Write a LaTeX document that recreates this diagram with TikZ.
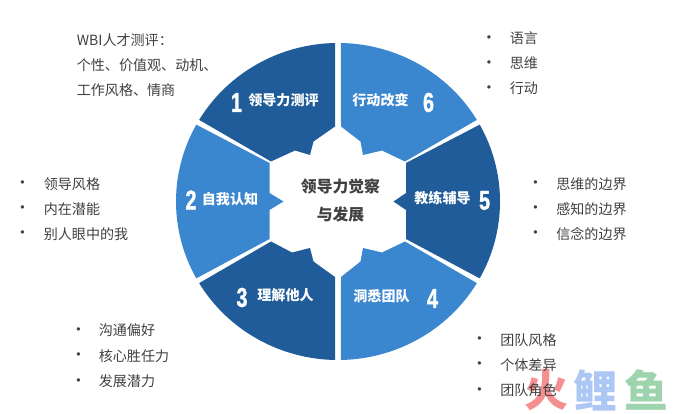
\documentclass[tikz,border=0pt]{standalone}
\usepackage{fontspec}
\setmainfont{Noto Sans CJK SC}
\newfontfamily\numfont[FakeBold=1.6]{Liberation Sans}
\newfontfamily\dotfont{Liberation Sans}
\definecolor{darkblue}{HTML}{1F5C99}
\definecolor{lightblue}{HTML}{3A87CF}
\definecolor{bodygray}{HTML}{404040}
\definecolor{brandred}{HTML}{F27C7C}
\definecolor{brandblue}{HTML}{9DBDF2}
\definecolor{brandgreen}{HTML}{8CCDA0}
\tikzset{
	label/.style={text=white, font=\fontsize{8}{8}\selectfont\bfseries, inner sep=0pt},
	num/.style={text=white, font=\numfont\fontsize{15.5}{15.5}\selectfont\bfseries, inner sep=0pt, transform shape, xscale=0.72},
	item/.style={text=bodygray, font=\fontsize{8}{8}\selectfont, anchor=west, inner sep=0pt},
	dot/.style={text=bodygray, font=\dotfont\fontsize{7}{7}\selectfont, inner sep=0pt},
	mid/.style={text=bodygray, font=\fontsize{9}{9}\selectfont\bfseries, inner sep=0pt},
	brand/.style={font=\fontsize{25}{25}\selectfont\bfseries, inner sep=0pt, text opacity=0.85}
}
\begin{document}
\begin{tikzpicture}
	\useasboundingbox (0,0) rectangle (13.84,8.26);

	% Watermark
	\node[brand, text=brandred] (w1) at (10.92,0.46) {火};
	\node[brand, text=brandblue] (w2) at (11.91,0.46) {鲤};
	\node[brand, text=brandgreen] (w3) at (12.92,0.46) {鱼};

	% Sectors
	\begin{scope}[shift={(6.76,4.23)}]
		\fill[darkblue] (149:3.24 and 3.17) -- (-1.34,0.80) -- (-0.86,1.02) -- (-0.56,0.93) -- (-0.49,1.20) -- (-0.06,1.50) -- (91:3.24 and 3.17) arc[start angle=91, end angle=149, x radius=3.24, y radius=3.17] -- cycle; % top left
		\fill[lightblue] (31:3.24 and 3.17) -- (1.34,0.80) -- (0.88,1.02) -- (0.50,0.93) -- (0.45,1.20) -- (0.06,1.50) -- (89:3.24 and 3.17) arc[start angle=89, end angle=31, x radius=3.24, y radius=3.17] -- cycle; % top right
		\fill[lightblue] (151:3.24 and 3.17) -- (-1.37,0.77) -- (-1.37,0.17) -- (-1.09,0) -- (-1.37,-0.17) -- (-1.37,-0.75) -- (209:3.24 and 3.17) arc[start angle=209, end angle=151, x radius=3.24, y radius=3.17] -- cycle; % left
		\fill[darkblue] (29:3.24 and 3.17) -- (1.36,0.77) -- (1.36,0.17) -- (1.11,0) -- (1.36,-0.17) -- (1.36,-0.75) -- (-29:3.24 and 3.17) arc[start angle=-29, end angle=29, x radius=3.24, y radius=3.17] -- cycle; % right
		\fill[darkblue] (211:3.24 and 3.17) -- (-1.34,-0.80) -- (-0.92,-1.02) -- (-0.56,-0.93) -- (-0.49,-1.20) -- (-0.06,-1.51) -- (269:3.24 and 3.17) arc[start angle=269, end angle=211, x radius=3.24, y radius=3.17] -- cycle; % bottom left
		\fill[lightblue] (-31:3.24 and 3.17) -- (1.34,-0.80) -- (0.88,-1.02) -- (0.50,-0.93) -- (0.45,-1.20) -- (0.06,-1.51) -- (-89:3.24 and 3.17) arc[start angle=-89, end angle=-31, x radius=3.24, y radius=3.17] -- cycle; % bottom right
	\end{scope}

	% Sector numbers and names
	\node[num] (n1) at (4.73,6.21) {1};
	\node[label] (s1) at (5.67,6.25) {领导力测评};
	\node[num] (n2) at (3.82,4.26) {2};
	\node[label] (s2) at (4.60,4.28) {自我认知};
	\node[num] (n3) at (4.84,2.31) {3};
	\node[label] (s3) at (5.71,2.35) {理解他人};
	\node[num] (n4) at (8.65,2.29) {4};
	\node[label] (s4) at (7.63,2.33) {洞悉团队};
	\node[num] (n5) at (9.69,4.25) {5};
	\node[label] (s5) at (8.85,4.29) {教练辅导};
	\node[num] (n6) at (8.57,6.21) {6};
	\node[label] (s6) at (7.61,6.25) {行动改变};

	% Centre
	\node[mid] (mid1) at (6.81,4.54) {领导力觉察};
	\node[mid] (mid2) at (6.81,3.97) {与发展};

	% Top left text
	\node[item] (wbi1) at (1.53,7.46) {WBI人才测评：};
	\node[item] (wbi2) at (1.53,6.96) {个性、价值观、动机、};
	\node[item] (wbi3) at (1.53,6.45) {工作风格、情商};

	% Left list
	\node[dot] (da1) at (0.45,4.58) {•};
	\node[item] (a1) at (0.87,4.58) {领导风格};
	\node[dot] (da2) at (0.45,4.08) {•};
	\node[item] (a2) at (0.87,4.08) {内在潜能};
	\node[dot] (da3) at (0.45,3.58) {•};
	\node[item] (a3) at (0.87,3.58) {别人眼中的我};

	% Lower left list
	\node[dot] (db1) at (1.57,1.65) {•};
	\node[item] (b1) at (1.97,1.65) {沟通偏好};
	\node[dot] (db2) at (1.57,1.14) {•};
	\node[item] (b2) at (1.97,1.14) {核心胜任力};
	\node[dot] (db3) at (1.57,0.63) {•};
	\node[item] (b3) at (1.97,0.63) {发展潜力};

	% Top right list
	\node[dot] (dc1) at (9.78,7.49) {•};
	\node[item] (c1) at (10.19,7.49) {语言};
	\node[dot] (dc2) at (9.78,6.99) {•};
	\node[item] (c2) at (10.19,6.99) {思维};
	\node[dot] (dc3) at (9.78,6.49) {•};
	\node[item] (c3) at (10.19,6.49) {行动};

	% Right list
	\node[dot] (dd1) at (10.71,4.58) {•};
	\node[item] (d1) at (11.12,4.58) {思维的边界};
	\node[dot] (dd2) at (10.71,4.08) {•};
	\node[item] (d2) at (11.12,4.08) {感知的边界};
	\node[dot] (dd3) at (10.71,3.58) {•};
	\node[item] (d3) at (11.12,3.58) {信念的边界};

	% Lower right list
	\node[dot] (de1) at (9.59,1.46) {•};
	\node[item] (e1) at (10.00,1.46) {团队风格};
	\node[dot] (de2) at (9.59,0.96) {•};
	\node[item] (e2) at (10.00,0.96) {个体差异};
	\node[dot] (de3) at (9.59,0.45) {•};
	\node[item] (e3) at (10.00,0.45) {团队角色};
\end{tikzpicture}
\end{document}
